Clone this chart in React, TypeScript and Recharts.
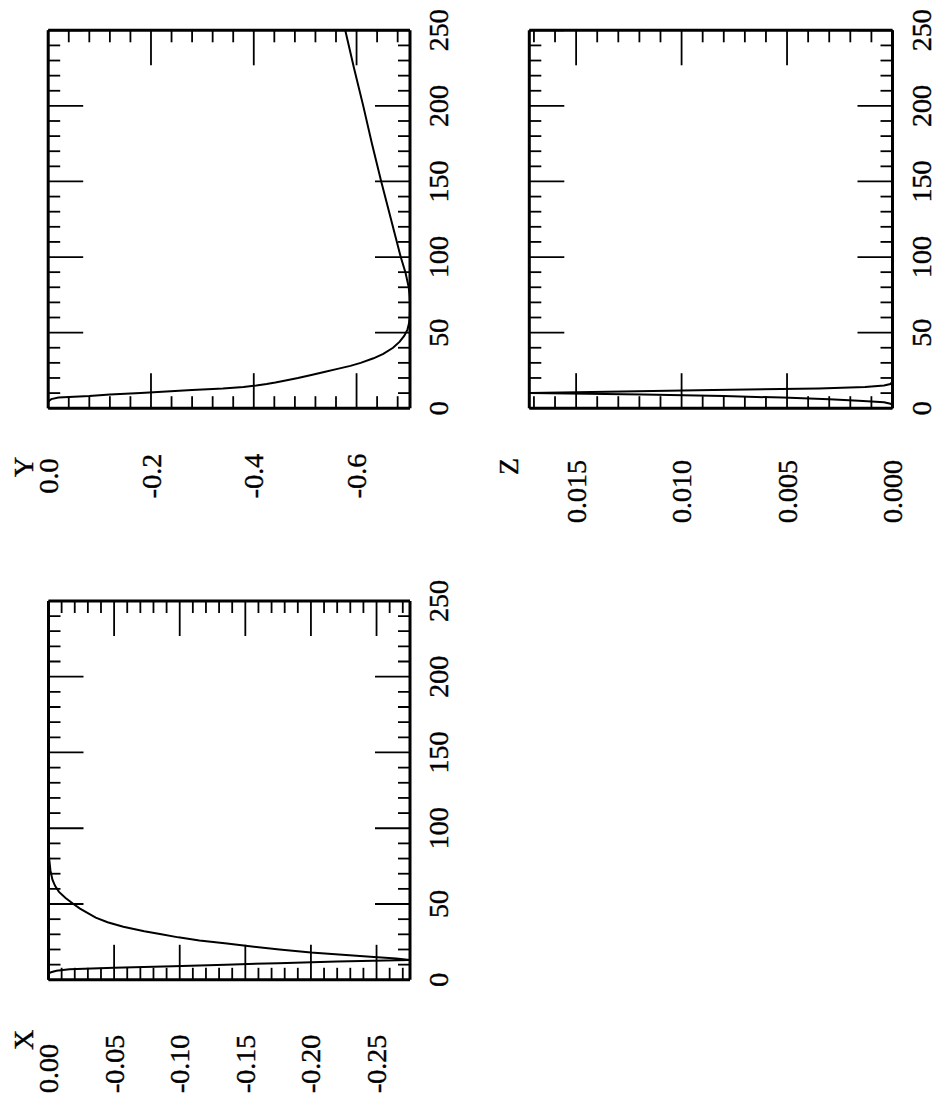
import { Line, LineChart, XAxis, YAxis } from "recharts";

const FONT = "'Liberation Serif', 'Times New Roman', Times, serif";
const FONT_SIZE = 28;
const MAJOR_LEN = 35;
const MINOR_LEN = 12;
const TICK_W = 1.8;
const FRAME_W = 3;

// shared horizontal axis (sample index)
const indexTicks = [0, 10, 20, 30, 40, 50, 60, 70, 80, 90, 100, 110, 120, 130, 140, 150, 160, 170, 180, 190, 200, 210, 220, 230, 240, 250];
const indexMajors = [0, 50, 100, 150, 200, 250];

// X panel
const xIdx = [0, 2, 4, 5, 6, 7, 8, 9, 10, 11, 12, 13, 14, 15, 16, 17, 18, 19, 20, 22, 24, 26, 28, 30, 32, 35, 38, 41, 44, 47, 50, 54, 58, 62, 66, 72, 80, 90, 100, 150, 200, 250];
const xVal = [0, 0, 0, -0.002, -0.006, -0.016, -0.05, -0.095, -0.135, -0.175, -0.22, -0.2755, -0.265, -0.248, -0.232, -0.216, -0.2, -0.188, -0.176, -0.155, -0.136, -0.115, -0.099, -0.086, -0.073, -0.057, -0.045, -0.036, -0.03, -0.024, -0.019, -0.013, -0.008, -0.005, -0.003, -0.0015, -0.0005, 0, 0, 0, 0, 0];
const xTicks = [0, -0.01, -0.02, -0.03, -0.04, -0.05, -0.06, -0.07, -0.08, -0.09, -0.1, -0.11, -0.12, -0.13, -0.14, -0.15, -0.16, -0.17, -0.18, -0.19, -0.2, -0.21, -0.22, -0.23, -0.24, -0.25, -0.26, -0.27];
const xMajors = [0, -0.05, -0.1, -0.15, -0.2, -0.25];

// Y panel
const yIdx = [0, 2, 4, 5, 6, 7, 8, 9, 10, 11, 12, 13, 14, 15, 16, 17, 18, 20, 22, 24, 26, 28, 30, 33, 36, 40, 44, 48, 52, 56, 60, 65, 70, 75, 80, 90, 100, 125, 150, 175, 200, 225, 250];
const yVal = [0, 0, 0, -0.002, -0.006, -0.02, -0.08, -0.12, -0.18, -0.23, -0.28, -0.34, -0.38, -0.405, -0.425, -0.442, -0.457, -0.486, -0.512, -0.537, -0.563, -0.588, -0.608, -0.633, -0.652, -0.671, -0.684, -0.693, -0.699, -0.702, -0.7035, -0.704, -0.704, -0.7032, -0.7015, -0.695, -0.686, -0.667, -0.648, -0.63, -0.613, -0.595, -0.578];
const yTicks = [0, -0.04, -0.08, -0.12, -0.16, -0.2, -0.24, -0.28, -0.32, -0.36, -0.4, -0.44, -0.48, -0.52, -0.56, -0.6, -0.64, -0.68];
const yMajors = [0, -0.2, -0.4, -0.6];

// Z panel
const zIdx = [0, 2, 3, 4, 5, 6, 7, 8, 9, 10, 11, 12, 13, 14, 15, 16, 17, 18, 30, 60, 100, 150, 200, 250];
const zVal = [0, 0, 0.0001, 0.0004, 0.0016, 0.003, 0.0052, 0.008, 0.0118, 0.0172, 0.0128, 0.0085, 0.0035, 0.0013, 0.0004, 0.0001, 0.00003, 0, 0, 0, 0, 0, 0, 0];
const zTicks = [0, 0.001, 0.002, 0.003, 0.004, 0.005, 0.006, 0.007, 0.008, 0.009, 0.01, 0.011, 0.012, 0.013, 0.014, 0.015, 0.016, 0.017];
const zMajors = [0, 0.005, 0.01, 0.015];

const rows = (idx: number[], val: number[]) => idx.map((i, k) => ({ i, v: val[k] }));

const isMajor = (v: number, majors: number[]) => majors.some((m) => Math.abs(m - v) < 1e-9);

// slight stroke so the type looks as heavy as the scanned original
const textProps = { fill: "#000", stroke: "#000", strokeWidth: 0.4, style: { fontFamily: FONT, fontSize: FONT_SIZE } };

function indexTick(side: "bottom" | "top") {
  return (p: any) => {
    const { x, y, payload } = p;
    const major = isMajor(payload.value, indexMajors);
    const dir = side === "bottom" ? -1 : 1;
    return (
      <g>
        <line x1={x} y1={y} x2={x} y2={y + dir * (major ? MAJOR_LEN : MINOR_LEN)} stroke="#000" strokeWidth={TICK_W} />
        {side === "bottom" && major && (
          <text x={x} y={y + 38} textAnchor="middle" {...textProps}>
            {payload.value}
          </text>
        )}
      </g>
    );
  };
}

function valueTick(side: "left" | "right", majors: number[], digits: number, labelDx: number, anchor: string) {
  return (p: any) => {
    const { x, y, payload } = p;
    const major = isMajor(payload.value, majors);
    const dir = side === "left" ? 1 : -1;
    return (
      <g>
        <line x1={x} y1={y} x2={x + dir * (major ? MAJOR_LEN : MINOR_LEN)} y2={y} stroke="#000" strokeWidth={TICK_W} />
        {side === "left" && major && (
          <text x={x + labelDx} y={y} dy="0.34em" textAnchor={anchor} {...textProps}>
            {payload.value.toFixed(digits)}
          </text>
        )}
      </g>
    );
  };
}

type PanelProps = {
  data: { i: number; v: number }[];
  domain: [number, number];
  ticks: number[];
  majors: number[];
  digits: number;
  title: string;
  left: number;
  top: number;
  width: number;
  height: number;
  plot: { left: number; right: number; top: number; bottom: number };
  labelDx: number;
  labelAnchor: string;
  titleDx: number;
  titleDy: number;
};

function Panel(props: PanelProps) {
  const { data, domain, ticks, majors, digits, title, plot } = props;
  const axisLine = { stroke: "#000", strokeWidth: FRAME_W };
  // each axis takes 1px, so the margins are 1px smaller than the plot insets
  const margin = { left: plot.left - 1, right: plot.right - 1, top: plot.top - 1, bottom: plot.bottom - 1 };
  return (
    <div style={{ position: "absolute", left: props.left, top: props.top }}>
      <LineChart width={props.width} height={props.height} data={data} margin={margin}>
        <XAxis
          dataKey="i"
          type="number"
          domain={[0, 250]}
          allowDataOverflow
          ticks={indexTicks}
          interval={0}
          height={1}
          tickSize={0}
          tickMargin={0}
          tickLine={false}
          axisLine={axisLine}
          tick={indexTick("bottom")}
        />
        <XAxis
          xAxisId="t"
          orientation="top"
          dataKey="i"
          type="number"
          domain={[0, 250]}
          allowDataOverflow
          ticks={indexTicks}
          interval={0}
          height={1}
          tickSize={0}
          tickMargin={0}
          tickLine={false}
          axisLine={axisLine}
          tick={indexTick("top")}
        />
        <YAxis
          type="number"
          domain={domain}
          allowDataOverflow
          ticks={ticks}
          interval={0}
          width={1}
          tickSize={0}
          tickMargin={0}
          tickLine={false}
          axisLine={axisLine}
          tick={valueTick("left", majors, digits, props.labelDx, props.labelAnchor)}
          label={(lp: any) => {
            const vb = lp.viewBox || { x: plot.left - 1, y: plot.top };
            return (
              <text x={vb.x + 1 + props.titleDx} y={vb.y + props.titleDy} {...textProps}>
                {title}
              </text>
            );
          }}
        />
        <YAxis
          yAxisId="r"
          orientation="right"
          type="number"
          domain={domain}
          allowDataOverflow
          ticks={ticks}
          interval={0}
          width={1}
          tickSize={0}
          tickMargin={0}
          tickLine={false}
          axisLine={axisLine}
          tick={valueTick("right", majors, digits, 0, "start")}
        />
        <Line
          type="linear"
          dataKey="v"
          stroke="#000"
          strokeWidth={2}
          dot={false}
          activeDot={false}
          isAnimationActive={false}
        />
      </LineChart>
    </div>
  );
}

export default function App() {
  return (
    <div style={{ position: "fixed", left: 0, top: 0, width: 937, height: 1103, overflow: "hidden", background: "#fff" }}>
      <div
        style={{
          position: "absolute",
          left: 0,
          top: 0,
          width: 1103,
          height: 937,
          transformOrigin: "0 0",
          transform: "translate(0px, 1103px) rotate(-90deg)",
        }}
      >
        <Panel
          data={rows(xIdx, xVal)}
          domain={[-0.2755, 0]}
          ticks={xTicks}
          majors={xMajors}
          digits={2}
          title="X"
          left={0}
          top={0}
          width={540}
          height={470}
          plot={{ left: 123.2, right: 37.9, top: 48.5, bottom: 60 }}
          labelDx={-113.2}
          labelAnchor="start"
          titleDx={-70.2}
          titleDy={-15.5}
        />
        <Panel
          data={rows(yIdx, yVal)}
          domain={[-0.704, 0]}
          ticks={yTicks}
          majors={yMajors}
          digits={1}
          title="Y"
          left={540}
          top={0}
          width={563}
          height={470}
          plot={{ left: 154.8, right: 30.3, top: 48.2, bottom: 60 }}
          labelDx={-67.8}
          labelAnchor="middle"
          titleDx={-68.8}
          titleDy={-15.2}
        />
        <Panel
          data={rows(zIdx, zVal)}
          domain={[0, 0.01722]}
          ticks={zTicks}
          majors={zMajors}
          digits={3}
          title="Z"
          left={540}
          top={480}
          width={563}
          height={457}
          plot={{ left: 154.8, right: 30.3, top: 49.3, bottom: 44.5 }}
          labelDx={-51.8}
          labelAnchor="end"
          titleDx={-66.8}
          titleDy={-11.3}
        />
      </div>
    </div>
  );
}
